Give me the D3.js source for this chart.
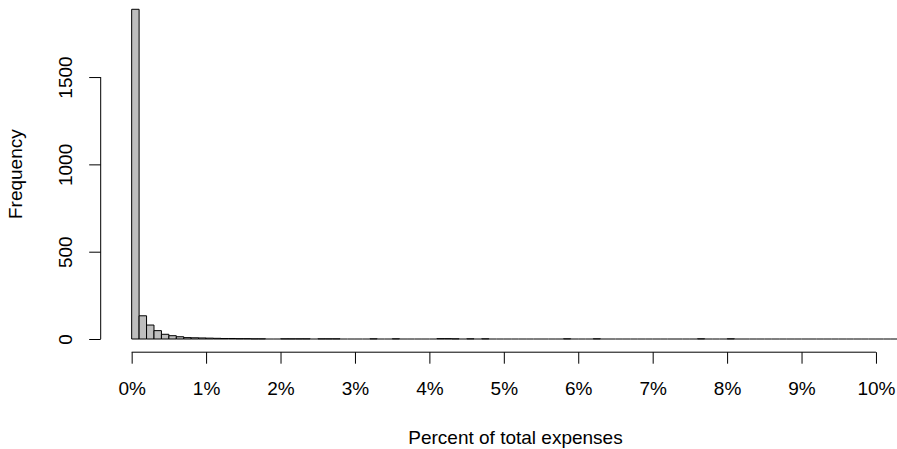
<!DOCTYPE html>
<html><head><meta charset="utf-8">
<script src="https://cdn.jsdelivr.net/npm/d3@7"></script>
<style>body{margin:0;background:#fff}svg{display:block}text{font-family:"Liberation Sans",Arial,sans-serif;fill:#000}</style>
</head><body>
<svg id="chart" width="897" height="449"></svg>
<script>
// bins of 0.1 percentage points, from 0% to 10.4%
const binWidth = 0.1;
const counts = [1888,133,80,48,27,19,13,8,7,6,5,4,3,3,2,2,1,1,0,0,1,1,1,1,0,1,1,1,0,0,0,0,1,0,0,1,0,0,0,0,0,2,2,1,0,1,0,1,0,0,0,0,0,0,0,0,0,0,1,0,0,0,1,0,0,0,0,0,0,0,0,0,0,0,0,0,1,0,0,0,1,0,0,0,0,0,0,0,0,0,0,0,0,0,0,0,0,0,0,0,0,0,0,0];
const xTicks = [0,1,2,3,4,5,6,7,8,9,10];
const xTickLabels = ["0%","1%","2%","3%","4%","5%","6%","7%","8%","9%","10%"];
const yTicks = [0,500,1000,1500];
const xTitle = "Percent of total expenses";
const yTitle = "Frequency";

const bins = counts.map((c,i)=>({x0:+(i*binWidth).toFixed(2), x1:+((i+1)*binWidth).toFixed(2), count:c}));
const xMax = bins[bins.length-1].x1;
const yMax = d3.max(counts);

const plot = {left:100.7, right:936.7, top:-3.9, bottom:352.2};
const x = d3.scaleLinear().domain([-0.04*xMax, 1.04*xMax]).range([plot.left, plot.right]);
const y = d3.scaleLinear().domain([-0.04*yMax, 1.04*yMax]).range([plot.bottom, plot.top]);

const svg = d3.select("#chart");
const fs = 19;

// bars (zero-count bins collapse to a line, as in R)
svg.append("g").selectAll("path").data(bins).join("path")
  .attr("d", d=>{
    const x0=x(d.x0), x1=x(d.x1), yb=y(0), yt=y(d.count);
    return d.count>0 ? `M${x0},${yb}V${yt}H${x1}V${yb}Z` : `M${x0},${yb}H${x1}`;
  })
  .attr("fill", d=>d.count>0?"#bebebe":"none").attr("stroke","#000").attr("stroke-width",1);

// x axis
const xAxis = d3.axisBottom(x).tickValues(xTicks).tickSize(11.5).tickSizeOuter(0)
  .tickFormat((d,i)=>xTickLabels[i]);
const gx = svg.append("g").attr("transform",`translate(0,${plot.bottom})`).call(xAxis);
gx.select(".domain").attr("d",`M${x(xTicks[0])},0H${x(xTicks[xTicks.length-1])}`).attr("stroke","#000");
gx.selectAll(".tick line").attr("stroke","#000");
gx.selectAll(".tick text").attr("y",null).attr("dy",null)
  .attr("transform",`translate(0,${395-plot.bottom})`)
  .style("font-size",fs+"px").style("font-family","Liberation Sans, Arial, sans-serif").attr("fill","#000");

// y axis
const yAxis = d3.axisLeft(y).tickValues(yTicks).tickSize(11.5).tickSizeOuter(0).tickFormat(d3.format("d"));
const gy = svg.append("g").attr("transform",`translate(${plot.left},0)`).call(yAxis);
gy.select(".domain").attr("d",`M0,${y(yTicks[0])}V${y(yTicks[yTicks.length-1])}`).attr("stroke","#000");
gy.selectAll(".tick line").attr("stroke","#000");
gy.selectAll(".tick text").attr("x",null).attr("dy",null)
  .attr("transform",`translate(${71.7-plot.left},0) rotate(-90)`)
  .attr("text-anchor","middle")
  .style("font-size",fs+"px").style("font-family","Liberation Sans, Arial, sans-serif").attr("fill","#000");

// titles
svg.append("text").attr("x", 515.5).attr("y",444).attr("text-anchor","middle")
  .style("font-size",fs+"px").text(xTitle);
svg.append("text").attr("transform",`translate(22,${(plot.top+plot.bottom)/2}) rotate(-90)`)
  .attr("text-anchor","middle").style("font-size",fs+"px").text(yTitle);
</script>
</body></html>
